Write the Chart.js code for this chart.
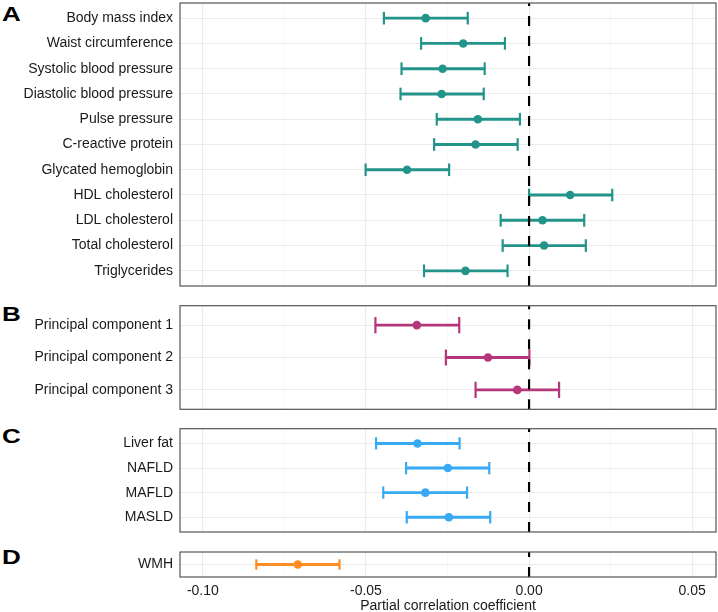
<!DOCTYPE html>
<html>
<head>
<meta charset="utf-8">
<script src="https://cdn.jsdelivr.net/npm/chart.js@4.4.1/dist/chart.umd.min.js"></script>
<style>
  body { margin: 0; background: #fff; }
  #wrap { position: relative; width: 718px; height: 612px; overflow: hidden; font-family: "Liberation Sans", Arial, sans-serif; }
  .panel { position: absolute; left: 0; width: 718px; }
  .tag { position: absolute; left: 2px; font-weight: bold; font-size: 20px; line-height: 20px; color: #000; transform: scaleX(1.3); transform-origin: left center; }
</style>
</head>
<body>
<div id="wrap">
  <div class="tag" style="top:4px">A</div>
  <div class="tag" style="top:304px">B</div>
  <div class="tag" style="top:426px">C</div>
  <div class="tag" style="top:547px">D</div>
  <div class="panel" style="top:0px;height:290px"><canvas id="chartA"></canvas></div>
  <div class="panel" style="top:300px;height:115px"><canvas id="chartB"></canvas></div>
  <div class="panel" style="top:423px;height:115px"><canvas id="chartC"></canvas></div>
  <div class="panel" style="top:545px;height:67px"><canvas id="chartD"></canvas></div>
</div>
<script>
// x axis
const xTicks = [-0.1, -0.075, -0.05, -0.025, 0, 0.025, 0.05];
const xMajor = [-0.1, -0.05, 0, 0.05];
const xTitle = 'Partial correlation coefficient';

// A: cardiometabolic traits
const labelsA = ['Body mass index', 'Waist circumference', 'Systolic blood pressure', 'Diastolic blood pressure',
  'Pulse pressure', 'C-reactive protein', 'Glycated hemoglobin', 'HDL cholesterol', 'LDL cholesterol',
  'Total cholesterol', 'Triglycerides'];
const estA  = [-0.0317, -0.0202, -0.0265, -0.0268, -0.0157, -0.0164, -0.0374, 0.0126, 0.0041, 0.0046, -0.0195];
const lowA  = [-0.0445, -0.0331, -0.0391, -0.0394, -0.0283, -0.0291, -0.0501, 0.0000, -0.0087, -0.0081, -0.0322];
const highA = [-0.0188, -0.0074, -0.0136, -0.0139, -0.0028, -0.0035, -0.0245, 0.0255, 0.0169, 0.0174, -0.0066];

// B: principal components
const labelsB = ['Principal component 1', 'Principal component 2', 'Principal component 3'];
const estB  = [-0.0344, -0.0126, -0.0036];
const lowB  = [-0.0471, -0.0255, -0.0164];
const highB = [-0.0214, 0.0001, 0.0092];

// C: liver
const labelsC = ['Liver fat', 'NAFLD', 'MAFLD', 'MASLD'];
const estC  = [-0.0342, -0.0249, -0.0318, -0.0246];
const lowC  = [-0.0469, -0.0377, -0.0447, -0.0375];
const highC = [-0.0213, -0.0122, -0.0190, -0.0119];

// D: white matter hyperintensities
const labelsD = ['WMH'];
const estD  = [-0.0709];
const lowD  = [-0.0836];
const highD = [-0.0581];

const textColor = '#1a1a1a';
const font = { family: '"Liberation Sans", Arial, sans-serif', size: 14 };
const isMajor = v => xMajor.some(m => Math.abs(m - v) < 1e-9);

// zero line + panel frame
const panelDecor = {
  id: 'panelDecor',
  afterDatasetsDraw(chart) {
    const { ctx, chartArea: a, scales: { x } } = chart;
    const zx = x.getPixelForValue(0);
    ctx.save();
    ctx.strokeStyle = '#000';
    ctx.lineWidth = 2.2;
    ctx.setLineDash([10, 10]);
    ctx.beginPath();
    ctx.moveTo(zx, a.bottom);
    ctx.lineTo(zx, a.top);
    ctx.stroke();
    ctx.setLineDash([]);
    ctx.strokeStyle = '#555';
    ctx.lineWidth = 1.2;
    ctx.strokeRect(a.left, a.top, a.right - a.left, a.bottom - a.top);
    ctx.restore();
  }
};

const makePanel = (id, labels, est, low, high, color, pad, areaHeight, showAxis) => {
  const rows = labels.map((_, i) => i);
  const capR = areaHeight / (labels.length + 0.2) / 4;
  return new Chart(document.getElementById(id), {
    type: 'bar',
    data: {
      datasets: [
        {
          type: 'line',
          data: rows.map(i => ({ x: est[i], y: i })),
          showLine: false,
          pointRadius: 4.3,
          pointHoverRadius: 4.3,
          pointBackgroundColor: color,
          pointBorderWidth: 0,
          order: 0
        },
        {
          type: 'line',
          data: rows.flatMap(i => [{ x: low[i], y: i }, { x: high[i], y: i }]),
          showLine: false,
          pointStyle: 'line',
          pointRotation: 90,
          pointRadius: capR,
          pointHoverRadius: capR,
          pointBorderColor: color,
          pointBorderWidth: 2.2,
          order: 1
        },
        {
          data: rows.map(i => ({ x: [low[i], high[i]], y: i })),
          backgroundColor: color,
          barThickness: 2.2,
          order: 2
        }
      ]
    },
    options: {
      indexAxis: 'y',
      responsive: true,
      maintainAspectRatio: false,
      animation: false,
      events: [],
      layout: { autoPadding: false, padding: { top: pad[0], bottom: pad[1], left: 0, right: 2 } },
      plugins: { legend: { display: false }, tooltip: { enabled: false } },
      scales: {
        x: {
          type: 'linear',
          min: -0.107,
          max: 0.0573,
          afterBuildTicks: axis => { axis.ticks = xTicks.map(v => ({ value: v })); },
          afterFit: axis => {
            axis.height = showAxis ? 35 : 0;
            axis.paddingLeft = 0;
            axis.paddingRight = 0;
          },
          border: { display: false },
          grid: {
            drawTicks: false,
            color: c => isMajor(c.tick.value) ? '#ebebeb' : '#f4f4f4',
            lineWidth: c => isMajor(c.tick.value) ? 1.1 : 0.6
          },
          ticks: {
            display: showAxis,
            autoSkip: false,
            maxRotation: 0,
            padding: 6,
            color: textColor,
            font: font,
            callback: v => isMajor(v) ? v.toFixed(2) : ''
          },
          title: { display: showAxis, text: xTitle, padding: { top: 0, bottom: -3 }, color: textColor, font: font }
        },
        y: {
          type: 'linear',
          reverse: true,
          offset: false,
          min: -0.6,
          max: labels.length - 0.4,
          afterBuildTicks: axis => { axis.ticks = rows.map(v => ({ value: v })); },
          afterFit: axis => {
            axis.width = 180;
            axis.paddingTop = 0;
            axis.paddingBottom = 0;
          },
          border: { display: false },
          grid: { drawTicks: false, offset: false, color: '#ebebeb', lineWidth: 1.1 },
          ticks: { autoSkip: false, padding: 7, color: textColor, font: font, callback: v => labels[v] }
        }
      }
    },
    plugins: [panelDecor]
  });
};

makePanel('chartA', labelsA, estA, lowA, highA, '#22948A', [3, 4], 283, false);
makePanel('chartB', labelsB, estB, lowB, highB, '#B5367A', [5.7, 5.7], 103.6, false);
makePanel('chartC', labelsC, estC, lowC, highC, '#38A9F3', [5.7, 6], 103.3, false);
makePanel('chartD', labelsD, estD, lowD, highD, '#FF8C22', [7, 0], 25, true);
</script>
</body>
</html>
